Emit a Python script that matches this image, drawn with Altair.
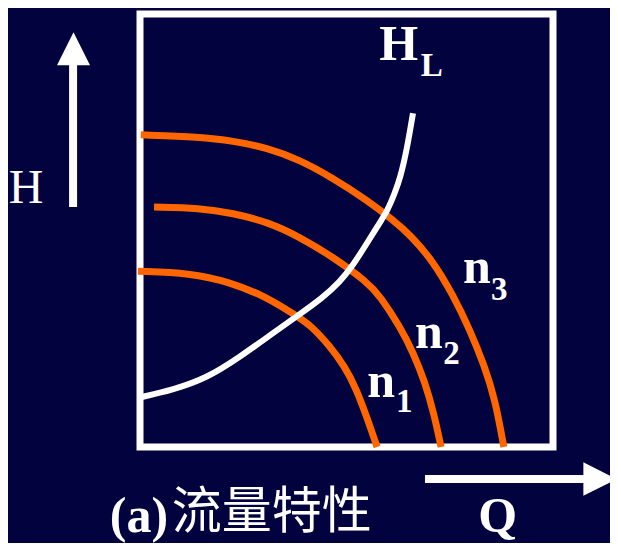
import altair as alt
import pandas as pd

BG = "#02023f"
ORANGE = "#ff6600"

# ---- curves (Q, H in chart units, box = 0..10 x 0..10) ----
n1_q = [-0.05, 1.21, 2.18, 3.08, 3.80, 4.12, 4.60, 4.96, 5.23, 5.50, 5.74]
n1_h = [4.06, 4.02, 3.81, 3.46, 3.02, 2.82, 2.33, 1.85, 1.36, 0.67, 0.00]

n2_q = [0.34, 1.45, 2.25, 3.08, 3.87, 4.67, 5.50, 5.81, 6.30, 6.61, 6.90, 7.12, 7.29]
n2_h = [5.54, 5.52, 5.40, 5.20, 4.85, 4.39, 3.81, 3.49, 2.77, 2.19, 1.50, 0.76, 0.00]

n3_q = [0.02, 1.45, 2.25, 3.08, 3.87, 4.67, 5.50, 6.13, 6.54, 7.09, 7.58, 7.99, 8.35, 8.60, 8.81]
n3_h = [7.21, 7.16, 7.07, 6.91, 6.63, 6.21, 5.70, 5.24, 4.90, 4.30, 3.51, 2.70, 1.85, 1.09, 0.00]

hl_q = [0.02, 0.80, 1.62, 2.42, 3.22, 3.87, 4.41, 4.84, 5.16, 5.47, 5.74, 6.00, 6.17, 6.30, 6.46, 6.61]
hl_h = [1.15, 1.32, 1.59, 2.08, 2.63, 3.07, 3.44, 3.81, 4.20, 4.67, 5.08, 5.47, 5.87, 6.21, 6.86, 7.71]

# ---- labels ----
big_text = ["H", "n", "n", "n", "(a)", "Q"]
big_q = [5.79, 5.50, 6.66, 7.82, -0.73, 8.66]
big_h = [8.94, 1.15, 2.29, 3.79, -1.96, -1.96]
big_align = ["left", "left", "left", "left", "left", "center"]

sub_text = ["L", "1", "2", "3"]
sub_q = [6.80, 6.20, 7.34, 8.50]
sub_h = [8.57, 0.81, 1.92, 3.39]

axis_h_text = ["H"]
axis_h_q = [-2.76]
axis_h_h = [5.64]

title_text = ["流量特性"]
title_q = [0.77]
title_h = [-1.87]

# ---- arrows ----
v_arrow_q = [-1.62]
v_arrow_h0 = [5.54]
v_arrow_h1 = [8.82]
v_head_q = [-1.61]
v_head_h = [9.20]

h_arrow_q0 = [6.90]
h_arrow_q1 = [10.77]
h_arrow_h = [-0.74]
h_head_q = [11.14]
h_head_h = [-0.74]


def series(name, q, h):
    return pd.DataFrame({"Q": q, "H": h, "curve": name, "order": list(range(len(q)))})


orange_df = pd.concat([series("n1", n1_q, n1_h), series("n2", n2_q, n2_h), series("n3", n3_q, n3_h)])
hl_df = series("HL", hl_q, hl_h)

xs = alt.Scale(domain=[0, 10], nice=False, zero=False)
ys = alt.Scale(domain=[0, 10], nice=False, zero=False)
X = alt.X("Q:Q", scale=xs, axis=None)
Y = alt.Y("H:Q", scale=ys, axis=None)

orange = alt.Chart(orange_df).mark_line(
    color=ORANGE, strokeWidth=7, interpolate="basis", strokeCap="butt"
).encode(x=X, y=Y, detail="curve:N", order="order:Q")

hl = alt.Chart(hl_df).mark_line(
    color="white", strokeWidth=6, interpolate="basis", strokeCap="butt"
).encode(x=X, y=Y, order="order:Q")

big_df = pd.DataFrame({"Q": big_q, "H": big_h, "t": big_text, "a": big_align})
big_left = alt.Chart(big_df[big_df["a"] == "left"]).mark_text(
    font="Liberation Serif", fontWeight="bold", fontSize=50, color="white",
    align="left", baseline="alphabetic"
).encode(x=X, y=Y, text="t:N")
big_center = alt.Chart(big_df[big_df["a"] == "center"]).mark_text(
    font="Liberation Serif", fontWeight="bold", fontSize=50, color="white",
    align="center", baseline="alphabetic"
).encode(x=X, y=Y, text="t:N")

sub = alt.Chart(pd.DataFrame({"Q": sub_q, "H": sub_h, "t": sub_text})).mark_text(
    font="Liberation Serif", fontWeight="bold", fontSize=33, color="white",
    align="left", baseline="alphabetic"
).encode(x=X, y=Y, text="t:N")

hlabel = alt.Chart(pd.DataFrame({"Q": axis_h_q, "H": axis_h_h, "t": axis_h_text})).mark_text(
    font="Liberation Serif", fontSize=48, color="white",
    align="center", baseline="alphabetic"
).encode(x=X, y=Y, text="t:N")

title = alt.Chart(pd.DataFrame({"Q": title_q, "H": title_h, "t": title_text})).mark_text(
    font="Noto Sans CJK SC", fontSize=50, color="white",
    align="left", baseline="alphabetic"
).encode(x=X, y=Y, text="t:N")

v_shaft = alt.Chart(pd.DataFrame({"Q": v_arrow_q, "H": v_arrow_h0, "H2": v_arrow_h1})).mark_rule(
    color="white", strokeWidth=8
).encode(x=X, y=Y, y2="H2:Q")

h_shaft = alt.Chart(pd.DataFrame({"Q": h_arrow_q0, "Q2": h_arrow_q1, "H": h_arrow_h})).mark_rule(
    color="white", strokeWidth=8
).encode(x=X, x2="Q2:Q", y=Y)

v_head = alt.Chart(pd.DataFrame({"Q": v_head_q, "H": v_head_h})).mark_point(
    shape="M-1,1L0,-1L1,1Z", size=1089, filled=True, color="white", opacity=1, strokeWidth=0
).encode(x=X, y=Y)

h_head = alt.Chart(pd.DataFrame({"Q": h_head_q, "H": h_head_h})).mark_point(
    shape="M-1,-1L1,0L-1,1Z", size=1120, filled=True, color="white", opacity=1, strokeWidth=0
).encode(x=X, y=Y)

chart = alt.layer(
    orange, hl, big_left, big_center, sub, hlabel, title, v_shaft, h_shaft, v_head, h_head
).properties(
    width=413, height=433,
    padding={"left": 132, "top": 6, "right": 57, "bottom": 96},
    autosize=alt.AutoSizeParams(type="none"),
    background=BG,
).configure_view(stroke="white", strokeWidth=7)

chart.save("out.html", embed_options={"renderer": "svg", "actions": False})
